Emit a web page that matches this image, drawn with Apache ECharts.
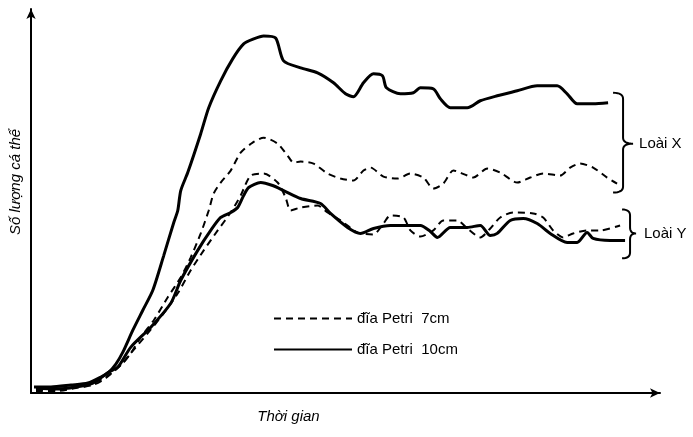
<!DOCTYPE html>
<html><head><meta charset="utf-8">
<script src="https://cdn.jsdelivr.net/npm/echarts@6/dist/echarts.min.js"></script>
<style>html,body{margin:0;padding:0;background:#fff}#c{width:693px;height:437px}</style>
</head><body><div id="c"></div>
<script>
// ---- text ----
const legendNames = ['đĩa Petri  7cm', 'đĩa Petri  10cm'];
const speciesLabels = ['Loài X', 'Loài Y'];
const xAxisTitle = 'Thời gian';
const yAxisTitle = 'Số lượng cá thể';

// ---- data: [time, number of individuals] (arbitrary units) ----
const loaiX10 = [[3,6],[20,6],[40,8],[57,10],[70,16],[78,21],[85,29],[92,41],[102,63],[112,83],[122,103],[133,138],[143,171],[147,183],[150,203],[157,221],[170,260],[178,286],[190,313],[202,335],[213,350],[223,355],[233,358],[245,356],[253,333],[270,326],[287,321],[303,311],[315,300],[323,297],[333,311],[343,320],[352,318],[356,306],[370,300],[383,301],[390,306],[403,305],[410,295],[420,286],[437,286],[450,293],[467,298],[487,303],[507,308],[527,308],[537,300],[547,290],[563,290],[578,291]];
const loaiX7 = [[5,3],[25,3],[45,6],[60,9],[75,16],[92,30],[100,40],[110,56],[123,73],[137,96],[150,116],[160,136],[170,160],[178,183],[183,200],[190,211],[200,223],[210,241],[222,251],[233,256],[247,250],[257,238],[263,231],[270,232],[283,230],[297,220],[310,215],[323,213],[333,223],[340,226],[353,217],[367,215],[380,220],[393,216],[403,205],[413,210],[423,223],[437,218],[443,216],[457,225],[470,221],[487,211],[500,216],[513,220],[530,218],[540,226],[550,230],[563,226],[577,216],[587,210]];
const loaiY10 = [[5,5],[25,4],[45,6],[62,10],[78,21],[87,26],[100,46],[120,66],[140,90],[150,113],[167,143],[180,163],[190,176],[200,181],[207,186],[213,198],[218,206],[230,211],[242,208],[253,203],[270,195],[290,190],[300,180],[317,166],[330,160],[343,165],[360,168],[390,168],[400,162],[407,156],[420,166],[437,166],[450,168],[460,158],[467,160],[480,173],[493,175],[507,170],[520,160],[537,151],[547,151],[557,161],[563,155],[580,153],[595,153]];
const loaiY7 = [[5,2],[25,2],[45,5],[62,8],[75,15],[92,30],[100,40],[117,60],[133,80],[147,100],[160,123],[173,143],[187,163],[200,181],[210,198],[220,218],[233,220],[247,211],[255,196],[260,183],[270,186],[287,188],[297,181],[310,173],[327,161],[343,159],[353,170],[360,178],[373,176],[380,163],[390,157],[403,163],[413,173],[427,173],[437,165],[450,156],[460,165],[470,176],[483,181],[503,180],[513,176],[523,163],[533,156],[543,160],[557,163],[570,163],[590,168]];

const FONT = "'Liberation Sans', Arial, sans-serif";
const chart = echarts.init(document.getElementById('c'), null, {renderer: 'canvas'});

function lineSeries(name, data, dashed) {
  return {
    type: 'line', name: name, data: data, smooth: 0.25,
    symbol: 'none', showSymbol: false, silent: true,
    lineStyle: dashed ? {color: '#000', width: 2, type: [7, 5]} : {color: '#000', width: 3, type: 'solid'},
    itemStyle: {color: '#000'}
  };
}

chart.setOption({
  animation: false,
  backgroundColor: '#fff',
  grid: {left: 30, right: 33, top: 9, bottom: 44},
  legend: {
    data: legendNames, orient: 'vertical', left: 273, top: 311, padding: 0,
    itemWidth: 78, itemHeight: 14, itemGap: 16, selectedMode: false,
    itemStyle: {opacity: 0},
    textStyle: {fontFamily: FONT, fontSize: 15, color: '#000'}
  },
  xAxis: {
    type: 'value', min: 0, max: 630,
    name: xAxisTitle, nameLocation: 'middle', nameGap: 16,
    nameTextStyle: {fontFamily: FONT, fontSize: 15, fontStyle: 'italic', color: '#000', padding: [0, 114, 0, 0]},
    axisLine: {show: true, symbol: ['none', 'arrow'], symbolSize: [7, 10], lineStyle: {color: '#000', width: 2}},
    axisTick: {show: false}, axisLabel: {show: false}, splitLine: {show: false}
  },
  yAxis: {
    type: 'value', min: 0, max: 385,
    name: yAxisTitle, nameLocation: 'middle', nameGap: 8, nameRotate: 90,
    nameTextStyle: {fontFamily: FONT, fontSize: 15, fontStyle: 'italic', color: '#000', padding: [0, 0, 0, 38]},
    axisLine: {show: true, symbol: ['none', 'arrow'], symbolSize: [7, 10], lineStyle: {color: '#000', width: 2}},
    axisTick: {show: false}, axisLabel: {show: false}, splitLine: {show: false}
  },
  series: [
    lineSeries(legendNames[1], loaiX10, false),
    lineSeries(legendNames[0], loaiX7, true),
    lineSeries(legendNames[1], loaiY10, false),
    lineSeries(legendNames[0], loaiY7, true)
  ]
});

// ---- brace annotations, positioned through the chart's coordinate system ----
const braces = [
  {label: speciesLabels[0], x0: 583, x1: 593, x2: 603, top: 301, mid: 250, bot: 201, textX: 609},
  {label: speciesLabels[1], x0: 592, x1: 600, x2: 606, top: 184, mid: 160, bot: 135, textX: 614}
];
function quad(pts, p0, c, p1) {
  for (let i = 1; i <= 8; i++) {
    const s = i / 8, u = 1 - s;
    pts.push([u * u * p0[0] + 2 * u * s * c[0] + s * s * p1[0], u * u * p0[1] + 2 * u * s * c[1] + s * s * p1[1]]);
  }
}
const graphics = [];
braces.forEach(function (b) {
  const p = function (x, y) { return chart.convertToPixel({gridIndex: 0}, [x, y]); };
  const a = p(b.x0, b.top), v = p(b.x1, b.mid), t = p(b.x2, b.mid), z = p(b.x0, b.bot), tp = p(b.x1, b.top), bt = p(b.x1, b.bot);
  const r = 6;
  const pts = [a];
  quad(pts, a, tp, [tp[0], tp[1] + r]);
  pts.push([v[0], v[1] - r]);
  quad(pts, [v[0], v[1] - r], v, t);
  quad(pts, t, v, [v[0], v[1] + r]);
  pts.push([bt[0], bt[1] - r]);
  quad(pts, [bt[0], bt[1] - r], bt, z);
  graphics.push({type: 'polyline', shape: {points: pts}, style: {fill: null, stroke: '#000', lineWidth: 2}, silent: true});
  const tx = p(b.textX, b.mid);
  graphics.push({type: 'text', x: tx[0], y: tx[1], style: {text: b.label, fontFamily: FONT, fontSize: 15, fill: '#000', verticalAlign: 'middle', align: 'left'}, silent: true});
});
chart.setOption({graphic: graphics});
</script>
</body></html>
